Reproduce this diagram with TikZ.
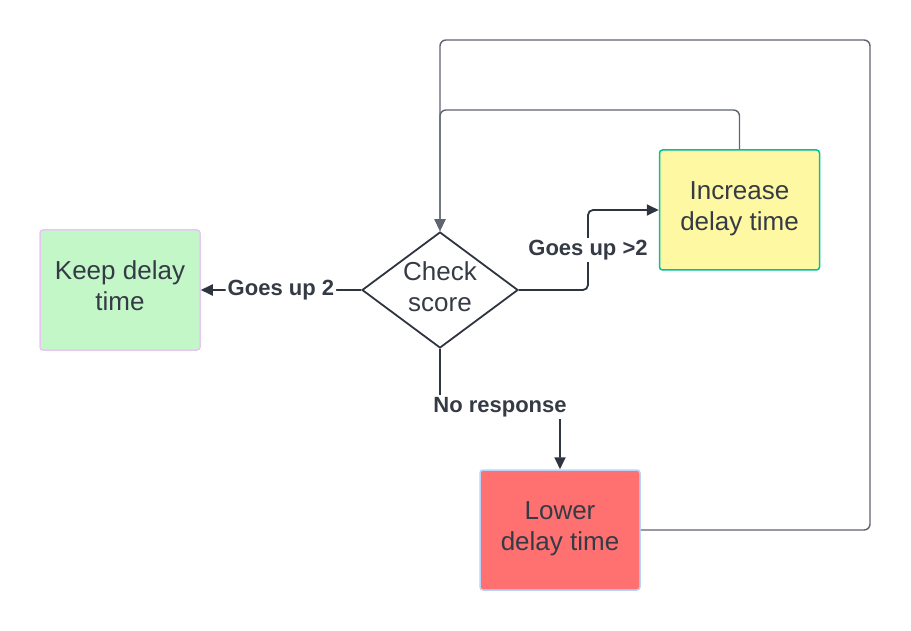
\documentclass[tikz,border=0pt]{standalone}
\usepackage{fontspec}
\setmainfont{Liberation Sans}
\usetikzlibrary{arrows.meta,shapes.geometric}
\definecolor{txt}{HTML}{353B45}
\definecolor{ln}{HTML}{5F6470}
\definecolor{dk}{HTML}{2E3440}
\definecolor{keepf}{HTML}{C3F7C8}
\definecolor{keepb}{HTML}{E8C6F4}
\definecolor{incf}{HTML}{FFF8A3}
\definecolor{incb}{HTML}{00C0A0}
\definecolor{lowf}{HTML}{FF7070}
\definecolor{lowb}{HTML}{B8D4F8}
\tikzset{
  boxnode/.style={rounded corners=3pt, line width=1.5pt, minimum width=160pt, minimum height=120pt, inner sep=0pt},
  txtnode/.style={align=center, text=txt, font=\fontsize{26}{31}\selectfont, inner sep=0pt},
  lbl/.style={fill=white, text=txt, font=\bfseries\fontsize{22}{24}\selectfont, inner sep=2pt},
  conn/.style={draw=dk, line width=1.8pt, rounded corners=5pt, -{Triangle[length=12pt,width=11pt]}},
  loopc/.style={draw=ln, line width=1.4pt, rounded corners=6pt, -{Triangle[length=12pt,width=11pt]}}
}
\begin{document}
\begin{tikzpicture}[x=1pt,y=-1pt]
\useasboundingbox (0,0) rectangle (911,631);
\node[boxnode, fill=keepf, draw=keepb, label={[txtnode,yshift=4pt]center:Keep delay\\time}] (keep) at (120,290) {};
\node[boxnode, fill=incf, draw=incb, label={[txtnode,yshift=1.5pt]center:Increase\\delay time}] (inc) at (739.5,210) {};
\node[boxnode, fill=lowf, draw=lowb, label={[txtnode,yshift=1.5pt]center:Lower\\delay time}] (low) at (560,530) {};
\node[diamond, draw=dk, line width=1.8pt, minimum width=156pt, minimum height=116pt, inner sep=0pt, label={[txtnode,yshift=3.5pt]center:Check\\score}] (dia) at (440,290) {};
% connectors
\draw[conn] (dia.west) -- node[lbl] (l1) {Goes up 2} (keep.east);
\coordinate (c1) at (588,290);
\coordinate (c2) at (588,210);
\draw[conn] (dia.east) -- (c1) -- node[lbl] (l2) {Goes up >2} (c2) -- (inc.west);
\coordinate (c3) at (440,407);
\coordinate (c4) at (560,407);
\draw[conn] (dia.south) -- (c3) -- node[lbl] (l3) {No response} (c4) -- (low.north);
\coordinate (c5) at (739.5,110);
\coordinate (c6) at (440,110);
\draw[loopc] (inc.north) -- (c5) -- (c6) -- (dia.north);
\coordinate (c7) at (870,530);
\coordinate (c8) at (870,40);
\coordinate (c9) at (440,40);
\draw[loopc] (low.east) -- (c7) -- (c8) -- (c9) -- (dia.north);
\end{tikzpicture}
\end{document}
